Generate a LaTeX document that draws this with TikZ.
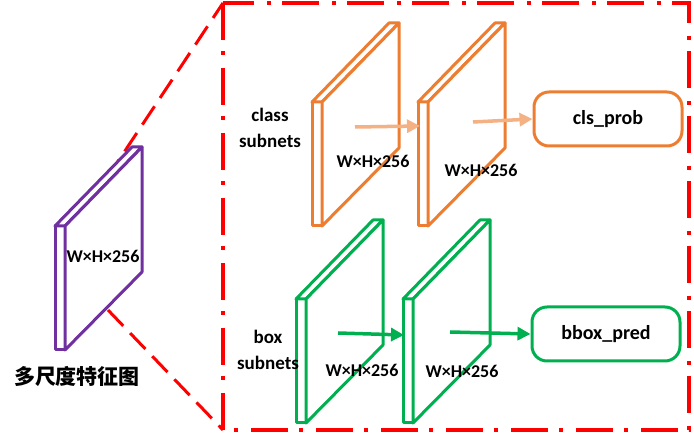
\documentclass[tikz,border=0pt]{standalone}
\usepackage{fontspec}
\setmainfont{Carlito}
\newfontfamily\cjk{Noto Sans CJK SC}
\usetikzlibrary{arrows.meta}

\definecolor{purp}{HTML}{7030A0}
\definecolor{orng}{HTML}{ED7D31}
\definecolor{peach}{HTML}{F4B183}
\definecolor{grn}{HTML}{00B050}
\definecolor{redline}{HTML}{FF0000}

\tikzset{
  slab/.pic={
    \draw[line width=3pt,fill=white,line join=round] (0,0) rectangle (10,124);
    \draw[line width=3pt,fill=white,line join=round] (0,0) -- (77,-79) -- (87,-79) -- (10,0) -- cycle;
    \draw[line width=3pt,fill=white,line join=round] (10,0) -- (87,-79) -- (87,46) -- (10,124) -- cycle;
  },
  dimtext/.style={font=\bfseries\fontsize{18}{20}\selectfont},
  subtext/.style={font=\bfseries\fontsize{19}{25.5}\selectfont,align=center},
  outbox/.style={line width=3pt,rounded corners=15pt,minimum width=148pt,minimum height=54pt,
    font=\bfseries\fontsize{20}{22}\selectfont},
  flow/.style={line width=3.5pt,-{Triangle[length=13pt,width=13pt]}}
}

\begin{document}
\begin{tikzpicture}[x=1pt,y=-1pt]
\useasboundingbox (0,0) rectangle (694,435);

% dash-dot frame and zoom lines
\coordinate (tl) at (223,3);
\coordinate (bl) at (223,430);
\coordinate (br) at (689,430);
\draw[redline,line width=3.5pt,dash pattern=on 37pt off 11pt on 4pt off 13pt] (tl) rectangle (br);
\coordinate (pt) at (107,178);
\coordinate (pb) at (108,310);
\draw[redline,line width=3pt,dash pattern=on 22pt off 10pt] (pt) -- (tl);
\draw[redline,line width=3pt,dash pattern=on 22pt off 10pt] (pb) -- (bl);

% feature map
\pic[color=purp] at (55,226) {slab};
\node[dimtext] (fm) at (103,256) {W×H×256};
\node[font=\cjk\bfseries\fontsize{21}{24}\selectfont] (fmlabel) at (77,376) {多尺度特征图};

% class subnet
\pic[color=orng] at (312,102) {slab};
\pic[color=orng] at (418,102) {slab};
\node[dimtext] (c1) at (373,161) {W×H×256};
\node[dimtext] (c2) at (481,170) {W×H×256};
\node[subtext] (cls) at (270,128) {class\\subnets};
\node[draw=orng,outbox] (prob) at (608,119) {cls\_prob};
\coordinate (ca) at (355,127);
\coordinate (cb) at (420,126);
\coordinate (cc) at (473,122);
\draw[peach,flow] (ca) -- (cb);
\draw[peach,flow] (cc) -- (prob.west);

% box subnet
\pic[color=grn] at (296,299) {slab};
\pic[color=grn] at (403,299) {slab};
\node[dimtext] (b1) at (362,370) {W×H×256};
\node[dimtext] (b2) at (462,371) {W×H×256};
\node[subtext] (box) at (268,350) {box\\subnets};
\node[draw=grn,outbox] (pred) at (606,334) {bbox\_pred};
\coordinate (ba) at (338,333);
\coordinate (bb) at (404,335);
\coordinate (bc) at (450,332);
\draw[grn,flow] (ba) -- (bb);
\draw[grn,flow] (bc) -- (pred.west);

\end{tikzpicture}
\end{document}
